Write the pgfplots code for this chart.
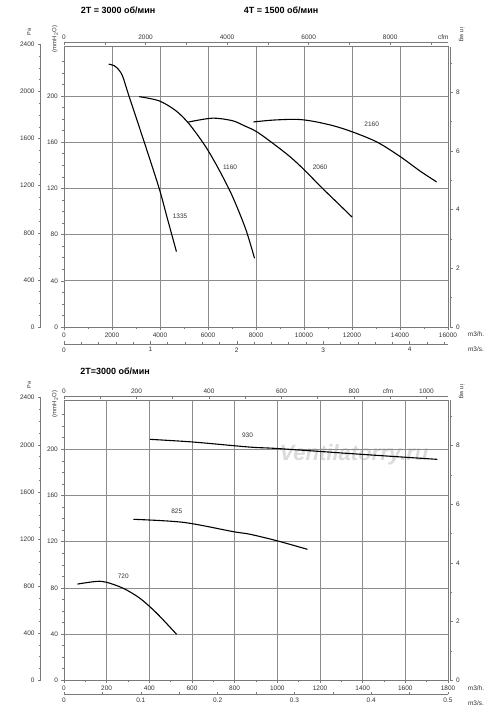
\documentclass[border=0pt]{standalone}
\usepackage{fontspec}
\setmainfont{Liberation Sans}
\usepackage{pgfplots}
\pgfplotsset{compat=1.18}
\definecolor{gridc}{HTML}{8C8C8C}
\definecolor{axc}{HTML}{7A7A7A}
\definecolor{txt}{HTML}{333333}
\pgfplotsset{
  base/.style={scale only axis, clip=false, scaled ticks=false,
    /pgf/number format/assume math mode=true,
    /pgf/number format/1000 sep={},
    tick label style={font=\fontsize{6.5}{7.5}\selectfont, text=txt},
    axis line style={axc, line width=0.6pt},
    major tick length=2.6pt, minor tick length=2pt,
    major tick style={axc, line width=0.5pt},
    minor tick style={axc, line width=0.5pt}},
  mainax/.style={base, width=384pt, height=280.3pt, ymin=0, ymax=2380,
    ytick={0,392.4,784.8,1177.2,1569.6,1962},
    yticklabels={0,40,80,120,160,200},
    minor ytick={98.1,196.2,294.3,490.5,588.6,686.7,882.9,981,1079.1,1275.3,1373.4,1471.5,1667.7,1765.8,1863.9,2060.1,2158.2,2256.3},
    xtick pos=bottom, ytick pos=left, tick align=outside,
    grid=major, major grid style={gridc, line width=0.6pt}},
  paax/.style={base, width=1pt, height=282.6pt, ymin=0, ymax=2400,
    axis y line*=left, hide x axis, xmin=0, xmax=1,
    ytick={0,400,...,2400}, minor ytick={100,200,300,500,600,700,900,1000,1100,1300,1400,1500,1700,1800,1900,2100,2200,2300},
    tick align=outside},
  wgax/.style={base, width=1pt, height=280.3pt, ymin=0, ymax=9.555,
    axis y line*=right, hide x axis, xmin=0, xmax=1,
    ytick={0,2,4,6,8}, minor ytick={1,3,5,7,9}, tick align=outside},
  cfmax/.style={base, width=384pt, height=1pt, ymin=0, ymax=1,
    axis x line*=top, hide y axis, tick align=inside},
  msax/.style={base, width=384pt, height=1pt, ymin=0, ymax=1,
    axis x line*=bottom, hide y axis, tick align=inside},
  curve/.style={black, line width=1.1pt, smooth, tension=0.5}
}
\newcommand{\lbl}{\fontsize{6.5}{7.5}\selectfont}
\begin{document}
\begin{tikzpicture}[x=1pt,y=1pt]
\fill[white] (0,0) rectangle (500,711);
\useasboundingbox (0,0) rectangle (500,711);

% ---------------- TOP PANEL ----------------
\node[font=\fontsize{9}{10}\selectfont\bfseries, text=black] at (118,700.3) {2T = 3000 об/мин};
\node[font=\fontsize{9}{10}\selectfont\bfseries, text=black] at (281,700.3) {4T = 1500 об/мин};

\begin{axis}[mainax, at={(64pt,384pt)}, anchor=south west,
  xmin=0, xmax=16000, xtick={0,2000,...,16000},
  minor xtick={1000,3000,...,15000}]
% 1335
\addplot[curve] coordinates {(1862,2232) (2097,2218) (2277,2185) (2443,2129) (2706,1962) (3343,1570) (3965,1177) (4311,918) (4685,640)};
% 1160
\addplot[curve] coordinates {(3135,1956) (3965,1920) (4657,1837) (5211,1725) (5903,1531) (6457,1336) (7010,1113) (7564,835) (7938,584)};
% 2060
\addplot[curve] coordinates {(5180,1740) (6180,1773) (7010,1752) (7500,1710) (8028,1658) (8725,1556) (9422,1445) (10007,1335) (10676,1196) (11373,1058) (12000,934)};
% 2160
\addplot[curve] coordinates {(7889,1741) (8725,1757) (9700,1763) (10397,1746) (11233,1708) (12000,1658) (13045,1570) (14021,1445) (14857,1321) (15526,1232)};
\end{axis}

\begin{axis}[paax, at={(40.7pt,384pt)}, anchor=south west]
\end{axis}
\begin{axis}[wgax, at={(450pt,384pt)}, anchor=south east]
\end{axis}
\begin{axis}[cfmax, at={(64pt,668.3pt)}, anchor=north west,
  xmin=0, xmax=9417.2, xtick={0,2000,...,8000}, minor xtick={1000,3000,...,9000}]
\end{axis}
\begin{axis}[msax, at={(64pt,367pt)}, anchor=south west,
  xmin=0, xmax=4.4444, xtick={0,1,2,3,4},
  minor xtick={0.2,0.4,0.6,0.8,1.2,1.4,1.6,1.8,2.2,2.4,2.6,2.8,3.2,3.4,3.6,3.8,4.2,4.4}]
\end{axis}

\node[font=\lbl, text=txt] at (180,495) {1335};
\node[font=\lbl, text=txt] at (230,543.3) {1160};
\node[font=\lbl, text=txt] at (320,543.7) {2060};
\node[font=\lbl, text=txt] at (371.7,586.7) {2160};
\node[font=\lbl, text=txt] at (443.3,674) {cfm};
\node[font=\lbl, text=txt] at (476,376.7) {m3/h.};
\node[font=\lbl, text=txt] at (476,362) {m3/s.};
\node[font=\fontsize{5.5}{6}\selectfont, text=txt, rotate=90] at (29,679.3) {Pa};
\node[font=\fontsize{6}{7}\selectfont, text=txt, rotate=90] at (55,672) {(mmH\textsubscript{2}O)};
\node[font=\fontsize{6}{7}\selectfont, text=txt, rotate=-90] at (461.7,676) {in wg};

% ---------------- BOTTOM PANEL ----------------
\node[font=\fontsize{9}{10}\selectfont\bfseries, text=black] at (115,339.3) {2T=3000 об/мин};
\node[font=\fontsize{22}{22}\selectfont\bfseries\itshape, text=gray!28] at (354,256) {Ventilatorry.ru};

\begin{axis}[mainax, at={(64pt,30.7pt)}, anchor=south west,
  xmin=0, xmax=1800, xtick={0,200,...,1800},
  minor xtick={100,300,...,1700}]
% 930
\addplot[curve] coordinates {(403,2046) (606,2023) (872,1980) (1000,1968) (1400,1918) (1750,1876)};
% 825
\addplot[curve] coordinates {(325,1367) (560,1341) (794,1262) (872,1240) (1002,1183) (1141,1112)};
% 720
\addplot[curve] coordinates {(63,817) (153,840) (200,832) (278,781) (356,696) (435,569) (528,390)};
\end{axis}

\begin{axis}[paax, at={(40.7pt,30.7pt)}, anchor=south west]
\end{axis}
\begin{axis}[wgax, at={(450pt,30.7pt)}, anchor=south east]
\end{axis}
\begin{axis}[cfmax, at={(64pt,314.3pt)}, anchor=north west,
  xmin=0, xmax=1059.4, xtick={0,200,...,1000}, minor xtick={100,300,500,700,900}]
\end{axis}
\begin{axis}[msax, at={(64pt,16.7pt)}, anchor=south west,
  xmin=0, xmax=0.5, xtick={0,0.1,0.2,0.3,0.4,0.5},
  minor xtick={0.05,0.15,0.25,0.35,0.45}]
\end{axis}

\node[font=\lbl, text=txt] at (247.5,276) {930};
\node[font=\lbl, text=txt] at (176.7,199.3) {825};
\node[font=\lbl, text=txt] at (123.3,134.3) {720};
\node[font=\lbl, text=txt] at (388,320.3) {cfm};
\node[font=\lbl, text=txt] at (476,23.3) {m3/h.};
\node[font=\lbl, text=txt] at (476,8.3) {m3/s.};
\node[font=\fontsize{5.5}{6}\selectfont, text=txt, rotate=90] at (29,326) {Pa};
\node[font=\fontsize{6}{7}\selectfont, text=txt, rotate=90] at (55,307) {(mmH\textsubscript{2}O)};
\node[font=\fontsize{6}{7}\selectfont, text=txt, rotate=-90] at (461.7,319.3) {in wg};
\end{tikzpicture}
\end{document}
